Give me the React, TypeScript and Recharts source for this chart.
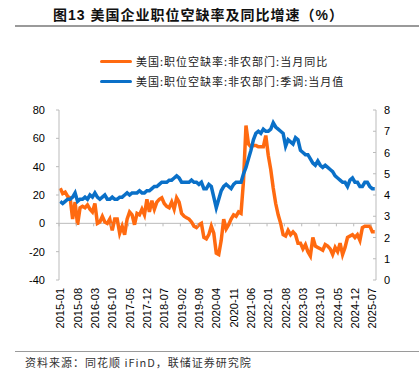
import { LineChart, Line, XAxis, YAxis, ReferenceLine } from "recharts"

// 2015-01 .. 2025-08
const months: string[] = []
for (let y = 2015; y <= 2025; y++) {
  for (let m = 1; m <= 12; m++) {
    if (y === 2025 && m > 8) break
    months.push(`${y}-${String(m).padStart(2, "0")}`)
  }
}

// 当月同比 (%), left axis
const yoy = [
  24.7, 21, 22, 19, 18, 3, 15, -1, 11, 12, 11, 13,
  10, 8, 14, 0, 1, 5, 1, 0, 3, -5, 3, 3,
  -7, -2, -8, 3, 8, 6, -1, 7, 6, 10, 6, 17,
  8, 16, 10, 15, 17, 18, 14, 12, 11, 15, 10, 18,
  15, 7, 5, 4, 3, 1, -2, -3, -1, 0, -10, -11,
  -8, -2, -7, -21, -22, -12, 3, -4, -1, 3, 6, 5,
  8, 7, 30, 69, 56, 54, 55, 55, 54, 54, 54, 62,
  48, 38, 25, 14, 6, 0, -8, -9, -5, -8, -6, -8,
  -14, -14, -18, -15, -20, -23, -10, -16, -17, -18, -19, -15,
  -16, -18, -22, -17, -20, -14, -22, -17, -10, -9, -8, -10,
  -8, -12, -3, -2, -2, -2, -6, -6,
]

// 季调当月值 (%), right axis
const rate = [
  3.7, 3.6, 3.7, 3.8, 3.8, 3.9, 4.1, 3.7, 3.8, 3.8, 3.9, 3.8,
  4.0, 3.9, 4.1, 3.9, 3.8, 3.9, 4.0, 3.8, 3.8, 3.9, 3.8, 3.8,
  3.9, 3.9, 4.0, 4.1, 4.0, 4.1, 4.1, 4.1, 4.2, 4.1, 4.1, 4.2,
  4.2, 4.3, 4.4, 4.4, 4.5, 4.6, 4.6, 4.6, 4.7, 4.7, 4.8, 4.9,
  4.8, 4.6, 4.6, 4.6, 4.6, 4.7, 4.6, 4.6, 4.5, 4.6, 4.3, 4.3,
  4.5, 4.4, 3.9, 3.4, 3.8, 4.2, 4.4, 4.5, 4.4, 4.3, 4.5, 4.6,
  4.6, 4.6, 5.0, 5.3, 5.7, 6.1, 6.6, 6.9, 7.0, 6.9, 7.1, 7.0,
  7.0, 7.1, 7.4, 7.2, 7.1, 7.0, 6.9, 6.3, 6.6, 6.5, 6.4, 6.7,
  6.6, 6.1, 6.0, 5.9, 5.9, 5.7, 5.5, 5.4, 5.6, 5.4, 5.3, 5.4,
  5.3, 5.2, 5.1, 4.9, 4.8, 4.7, 4.6, 4.6, 4.4, 4.7, 4.8, 4.6,
  4.6, 4.4, 4.4, 4.6, 4.6, 4.4, 4.3, 4.3,
]

const leftTicks = [-40, -20, 0, 20, 40, 60, 80]
const rightTicks = [0, 1, 2, 3, 4, 5, 6, 7, 8]
const xTicks = months.map((_, i) => i).filter((i) => i % 7 === 0)

const data = months.map((m, i) => ({ i, month: m, yoy: yoy[i], rate: rate[i] }))

const ORANGE = "#FF6A10"
const BLUE = "#0A70C8"
const AXIS = "#BBBBBB"
const FONT = "'Liberation Sans', Arial, 'Noto Sans CJK SC', sans-serif"
const CJK = "'Noto Sans CJK SC', sans-serif"

const W = 419
const H = 375
const TOP = 110
const LEFT_W = 59
const RIGHT_W = 43
const X_H = 50
const BOTTOM = 45
const PLOT_W = W - LEFT_W - RIGHT_W
const PLOT_H = H - TOP - X_H - BOTTOM
const BW = PLOT_W / months.length
const ZERO_Y = TOP + (PLOT_H * 80) / 120

const XTick = ({ x, y, payload }: { x: number; y: number; payload: { value: number } }) => (
  <g>
    <line x1={x - BW / 2} x2={x - BW / 2} y1={ZERO_Y} y2={ZERO_Y + 3} stroke={AXIS} />
    <text
      transform={`translate(${x + 4},${y + 8}) rotate(-90)`}
      textAnchor="end"
      fontSize={11}
      fill="#000"
      fontFamily={FONT}
    >
      {months[payload.value]}
    </text>
  </g>
)

const RightTick = ({ x, y, payload }: { x: number; y: number; payload: { value: number } }) => (
  <g>
    <line x1={x - 11} x2={x - 8} y1={y} y2={y} stroke={AXIS} />
    <text x={x} y={y} dy={4} textAnchor="start" fontSize={11} fill="#000" fontFamily={FONT}>
      {payload.value}
    </text>
  </g>
)

export default function App() {
  return (
    <div style={{ position: "relative", width: W, height: H, background: "#fff", overflow: "hidden" }}>
      <style>{"body{margin:0}"}</style>
      <div
        style={{
          position: "absolute",
          left: 53,
          top: 4,
          fontFamily: FONT,
          fontWeight: 700,
          fontSize: 14,
          letterSpacing: 1,
          color: "#111",
          whiteSpace: "nowrap",
        }}
      >
        图13 美国企业职位空缺率及同比增速（%）
      </div>
      <div style={{ position: "absolute", left: 15, top: 25, width: 404, height: 2, background: "#9a9a9a" }} />

      {[
        { color: ORANGE, label: "美国:职位空缺率:非农部门:当月同比", y: 61 },
        { color: BLUE, label: "美国:职位空缺率:非农部门:季调:当月值", y: 81 },
      ].map((l) => (
        <div key={l.label} style={{ position: "absolute", left: 100, top: l.y - 8, height: 16, display: "flex", alignItems: "center" }}>
          <div style={{ width: 32, height: 3, background: l.color, borderRadius: 2 }} />
          <span style={{ marginLeft: 4, fontFamily: CJK, fontSize: 11, letterSpacing: 1, color: "#222", whiteSpace: "nowrap" }}>{l.label}</span>
        </div>
      ))}

      <div style={{ position: "absolute", left: 0, top: 0 }}>
        <LineChart
          width={W}
          height={H}
          data={data}
          margin={{ top: TOP, right: 0, bottom: BOTTOM, left: 0 }}
          style={{ fontFamily: FONT }}
        >
          <XAxis
            dataKey="i"
            type="number"
            domain={[-0.5, months.length - 0.5]}
            ticks={xTicks}
            interval={0}
            axisLine={false}
            tickLine={false}
            tickSize={0}
            tickMargin={0}
            height={X_H}
            tick={XTick}
          />
          <YAxis
            yAxisId="left"
            orientation="left"
            domain={[-40, 80]}
            ticks={leftTicks}
            interval={0}
            width={LEFT_W}
            axisLine={{ stroke: AXIS }}
            tickLine={{ stroke: AXIS }}
            tickSize={3}
            tickMargin={11}
            tick={{ fill: "#000", fontSize: 11 }}
          />
          <YAxis
            yAxisId="right"
            orientation="right"
            domain={[0, 8]}
            ticks={rightTicks}
            interval={0}
            width={RIGHT_W}
            axisLine={{ stroke: AXIS }}
            tickLine={false}
            tickSize={0}
            tickMargin={8}
            tick={RightTick}
          />
          <ReferenceLine yAxisId="left" y={0} stroke={AXIS} />
          <Line
            yAxisId="left"
            dataKey="yoy"
            stroke={ORANGE}
            strokeWidth={3.5}
            dot={false}
            isAnimationActive={false}
          />
          <Line
            yAxisId="right"
            dataKey="rate"
            stroke={BLUE}
            strokeWidth={3.5}
            dot={false}
            isAnimationActive={false}
          />
        </LineChart>
      </div>

      <div style={{ position: "absolute", left: 15, top: 351, width: 404, height: 1, background: "#9a9a9a" }} />
      <div
        style={{
          position: "absolute",
          left: 25,
          top: 354,
          fontFamily: CJK,
          fontSize: 11,
          letterSpacing: 1,
          color: "#333",
          whiteSpace: "nowrap",
        }}
      >
        资料来源：同花顺 iFinD，联储证券研究院
      </div>
    </div>
  )
}
